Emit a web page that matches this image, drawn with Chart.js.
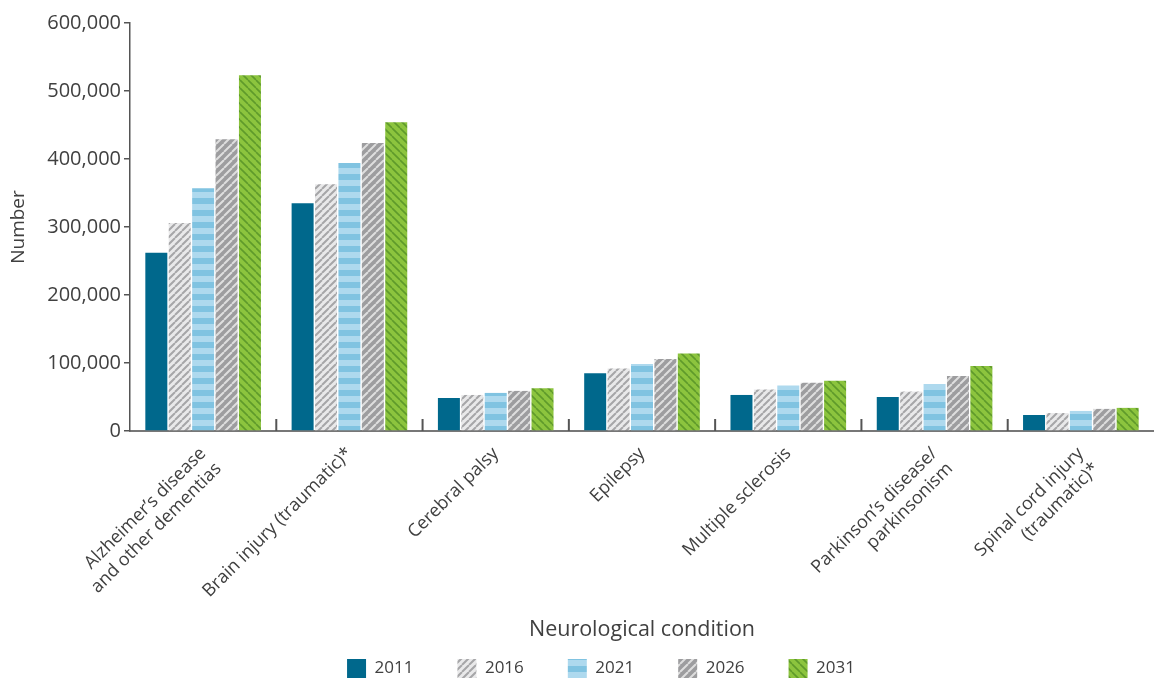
<!DOCTYPE html>
<html>
<head>
<meta charset="utf-8">
<script src="https://cdn.jsdelivr.net/npm/chart.js@4"></script>
<style>
  html, body { margin: 0; padding: 0; background: #fff; }
  #wrap { width: 1154px; height: 681px; position: relative; }
</style>
</head>
<body>
<div id="wrap"><canvas id="neuroChart"></canvas></div>
<script>
const conditions = [
  ['Alzheimer\u2019s disease', 'and other dementias'],
  'Brain injury (traumatic)*',
  'Cerebral palsy',
  'Epilepsy',
  'Multiple sclerosis',
  ['Parkinson\u2019s disease/', 'parkinsonism'],
  ['Spinal cord injury', '(traumatic)*'],
];
const years = ['2011', '2016', '2021', '2026', '2031'];

const v2011 = [262000, 335000, 48500, 85000, 53000, 50000, 23500];
const v2016 = [306000, 363000, 53000, 92000, 61000, 58000, 26500];
const v2021 = [357000, 394000, 56000, 98500, 67000, 69000, 29500];
const v2026 = [429000, 423500, 59000, 106000, 71000, 81000, 32500];
const v2031 = [523000, 454000, 63000, 114000, 74000, 95500, 34000];

const yTicks = [0, 100000, 200000, 300000, 400000, 500000, 600000];

function diagPattern(bg, fg, size, width, backslash) {
  const c = document.createElement('canvas');
  c.width = size; c.height = size;
  const g = c.getContext('2d');
  g.fillStyle = bg;
  g.fillRect(0, 0, size, size);
  g.strokeStyle = fg;
  g.lineWidth = width;
  g.beginPath();
  for (let k = -1; k <= 1; k++) {
    if (backslash) {
      g.moveTo(k * size, 0); g.lineTo(k * size + size, size);
    } else {
      g.moveTo(k * size, size); g.lineTo(k * size + size, 0);
    }
  }
  g.stroke();
  return g.createPattern(c, 'repeat');
}

function bandPattern(a, b, h) {
  const c = document.createElement('canvas');
  c.width = 4; c.height = h * 2;
  const g = c.getContext('2d');
  g.fillStyle = a; g.fillRect(0, 0, 4, h);
  g.fillStyle = b; g.fillRect(0, h, 4, h);
  return g.createPattern(c, 'repeat');
}

const fills = [
  '#00688c',
  diagPattern('#e9e9ea', '#a6a6a8', 7, 2, false),
  bandPattern('#aed9ee', '#80c3e1', 6),
  diagPattern('#9d9d9f', '#dedede', 8, 2, false),
  diagPattern('#8cc43e', '#5f9a2b', 8, 1.6, true),
];

const seriesValues = [v2011, v2016, v2021, v2026, v2031];

// short ticks between categories, rising from the x axis into the plot
const boundaryTicks = {
  id: 'boundaryTicks',
  afterDatasetsDraw(chart) {
    const x = chart.scales.x;
    const bottom = chart.chartArea.bottom;
    const ctx = chart.ctx;
    ctx.save();
    ctx.strokeStyle = '#555';
    ctx.lineWidth = 2;
    ctx.beginPath();
    for (let i = 1; i < conditions.length; i++) {
      const px = (x.getPixelForValue(i - 1) + x.getPixelForValue(i)) / 2;
      ctx.moveTo(px, bottom - 12);
      ctx.lineTo(px, bottom);
    }
    ctx.stroke();
    ctx.restore();
  }
};

// fixed legend height and a nudge to the right so it sits like the original
const legendPlace = {
  id: 'legendPlace',
  beforeInit(chart) {
    const legend = chart.legend;
    const fit = legend.fit;
    legend.fit = function () { fit.call(this); this.height = 66; };
  },
  beforeDraw(chart) {
    const lg = chart.legend;
    const shift = 601 - (lg.left + lg.right) / 2;
    lg.left += shift; lg.right += shift;
  }
};

const textColor = '#404040';
const fontFamily = '"Open Sans", Lato, sans-serif';

new Chart(document.getElementById('neuroChart').getContext('2d'), {
  type: 'bar',
  data: {
    labels: conditions,
    datasets: years.map((y, i) => ({
      label: y,
      data: seriesValues[i],
      backgroundColor: fills[i],
      borderWidth: 0,
      categoryPercentage: 0.8,
      barPercentage: 0.94,
    })),
  },
  plugins: [boundaryTicks, legendPlace],
  options: {
    responsive: true,
    maintainAspectRatio: false,
    animation: false,
    layout: { padding: { top: 23, right: 0, left: 0, bottom: 0 } },
    scales: {
      x: {
        afterFit(scale) { scale.height = 184; },
        grid: { display: false },
        border: { display: true, color: '#777', width: 2 },
        ticks: {
          color: textColor,
          font: { family: fontFamily, size: 18 },
          minRotation: 45,
          maxRotation: 45,
          padding: 4,
        },
        title: {
          display: true,
          text: 'Neurological condition',
          color: textColor,
          font: { family: fontFamily, size: 21.5 },
          padding: { top: 0, bottom: -28 },
        },
      },
      y: {
        min: 0,
        max: 600000,
        afterFit(scale) { scale.width = 130; },
        afterBuildTicks(axis) { axis.ticks = yTicks.map(v => ({ value: v })); },
        grid: { drawOnChartArea: false, drawTicks: true, tickLength: 6, color: '#555', lineWidth: 1.5 },
        border: { display: true, color: '#555', width: 1.5 },
        ticks: {
          color: textColor,
          font: { family: fontFamily, size: 20 },
          padding: 3,
          callback: v => v.toLocaleString('en-US'),
        },
        title: {
          display: true,
          text: 'Number',
          color: textColor,
          font: { family: fontFamily, size: 19 },
          padding: { top: 7, bottom: 0 },
        },
      },
    },
    plugins: {
      legend: {
        position: 'bottom',
        labels: {
          color: textColor,
          font: { family: fontFamily, size: 17 },
          boxWidth: 19,
          boxHeight: 19,
          padding: 44,
        },
      },
      tooltip: { enabled: false },
    },
  },
});
</script>
</body>
</html>
